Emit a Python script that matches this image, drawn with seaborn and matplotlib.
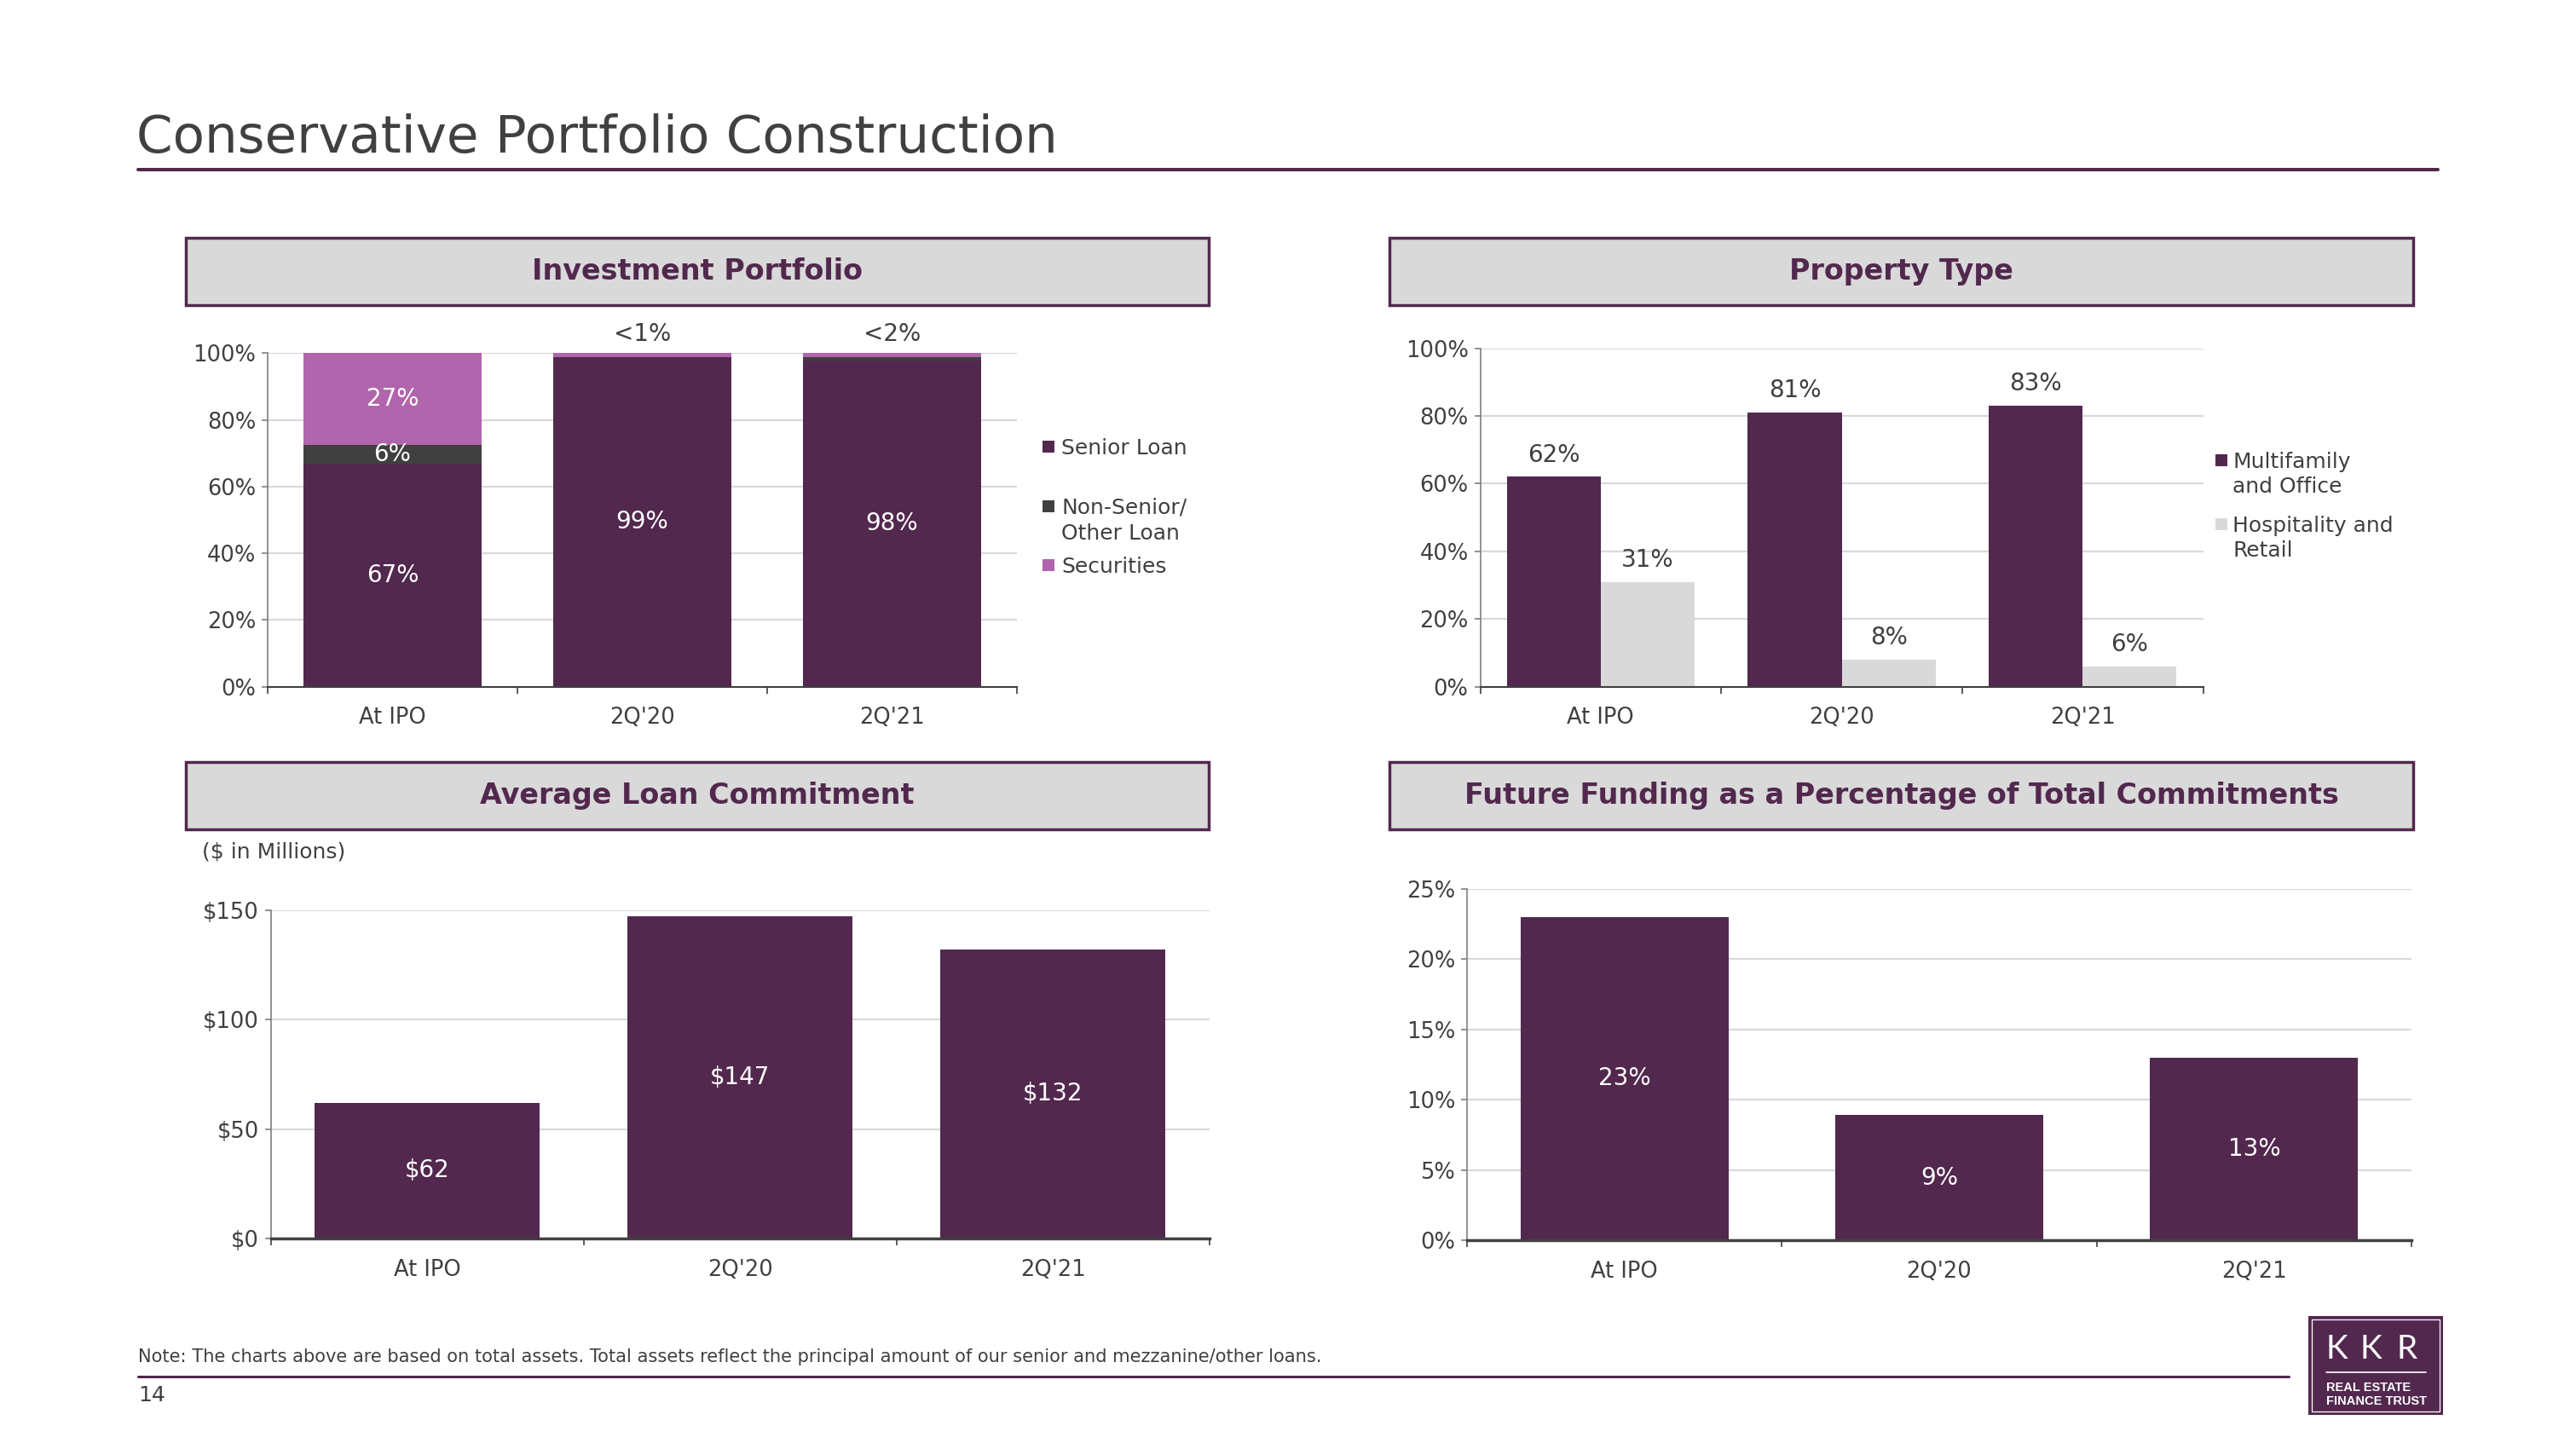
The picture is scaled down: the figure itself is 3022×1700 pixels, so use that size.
import matplotlib
matplotlib.use("Agg")
import matplotlib.pyplot as plt
import seaborn as sns
import pandas as pd
from matplotlib.patches import Rectangle
from matplotlib.lines import Line2D
from matplotlib.ticker import FuncFormatter

sns.set_style("white")
plt.rcParams['font.family'] = ['DejaVu Sans']

# ---------------- data ----------------
periods = ["At IPO", "2Q'20", "2Q'21"]

# Investment Portfolio (stacked, %)
senior_loan = [66.9, 98.8, 97.7]
non_senior_loan = [5.7, 0.0, 1.1]
securities = [27.4, 1.2, 1.2]
senior_labels = ["67%", "99%", "98%"]
non_senior_labels = ["6%", "", ""]
securities_labels = ["27%", "", ""]
portfolio_top_labels = ["", "<1%", "<2%"]

# Property Type (%)
property_types = ["Multifamily and Office", "Hospitality and Retail"]
multifamily_office = [62, 81, 83]
hospitality_retail = [31, 8, 6]
multifamily_labels = ["62%", "81%", "83%"]
hospitality_labels = ["31%", "8%", "6%"]

# Average Loan Commitment ($ millions)
avg_loan = [62, 147, 132]
avg_loan_labels = ["$62", "$147", "$132"]

# Future Funding as % of Total Commitments
future_funding = [23, 8.9, 13]
future_funding_labels = ["23%", "9%", "13%"]

pct_ticks = [0, 20, 40, 60, 80, 100]
loan_ticks = [0, 50, 100, 150]
ff_ticks = [0, 5, 10, 15, 20, 25]

# ---------------- style ----------------
PURPLE = "#52284E"
PINK = "#B165AC"
DARKGRAY = "#404040"
LIGHT = "#D9D9D9"
TXT = "#404040"

W, H = 3022, 1700
fig = plt.figure(figsize=(W / 100, H / 100), dpi=100)
fig.patch.set_facecolor("white")


def px_axes(x0, y0, x1, y1):
    return fig.add_axes([x0 / W, 1 - y1 / H, (x1 - x0) / W, (y1 - y0) / H])


def fx(x):
    return x / W


def fy(y):
    return 1 - y / H


def header(x0, y0, x1, y1, text):
    fig.patches.append(Rectangle((fx(x0), fy(y1)), (x1 - x0) / W, (y1 - y0) / H,
                                 transform=fig.transFigure, facecolor=LIGHT,
                                 edgecolor=PURPLE, linewidth=2.5))
    fig.text(fx((x0 + x1) / 2), fy((y0 + y1) / 2), text, ha="center", va="center",
             fontsize=24, fontweight="bold", color=PURPLE)


def style(ax, yticks, fmt, bottom_lw):
    ax.set_xlim(-0.5, 2.5)
    ax.set_ylim(yticks[0], yticks[-1])
    ax.set_yticks(yticks)
    ax.yaxis.set_major_formatter(FuncFormatter(fmt))
    ax.grid(False)
    ax.yaxis.grid(True, color=LIGHT, linewidth=1.6)
    ax.set_axisbelow(True)
    for s in ["top", "right"]:
        ax.spines[s].set_visible(False)
    ax.spines["left"].set_color("#7F7F7F")
    ax.spines["left"].set_linewidth(1.2)
    ax.spines["bottom"].set_color(DARKGRAY)
    ax.spines["bottom"].set_linewidth(bottom_lw)
    ax.set_xticks([-0.5, 0.5, 1.5, 2.5])
    ax.set_xticklabels([])
    ax.set_xticks([0, 1, 2], minor=True)
    ax.set_xticklabels(periods, minor=True)
    ax.tick_params(axis="x", which="major", bottom=True, length=6, width=1.2,
                   color=DARKGRAY, direction="out")
    ax.tick_params(axis="x", which="minor", bottom=True, length=0, pad=17,
                   labelsize=18.5, labelcolor=TXT)
    ax.tick_params(axis="y", which="major", left=True, length=5, width=1.2,
                   color="#7F7F7F", pad=5, labelsize=18.5, labelcolor=TXT)
    ax.set_xlabel("")
    ax.set_ylabel("")


pct_fmt = lambda v, p: f"{v:.0f}%"
usd_fmt = lambda v, p: f"${v:.0f}"

# ---------------- page frame ----------------
fig.text(fx(160), fy(179), "Conservative Portfolio Construction", fontsize=44,
         color=TXT, ha="left", va="baseline")
fig.add_artist(Line2D([fx(162), fx(2860)], [fy(198.5), fy(198.5)],
                      transform=fig.transFigure, color=PURPLE, linewidth=2.9))

header(218, 279, 1418, 358, "Investment Portfolio")
header(1630, 279, 2831, 358, "Property Type")
header(218, 894, 1418, 973, "Average Loan Commitment")
header(1630, 894, 2831, 973, "Future Funding as a Percentage of Total Commitments")

# ---------------- chart 1: Investment Portfolio ----------------
ax1 = px_axes(314, 414.4, 1193, 805.6)
df1 = pd.DataFrame({"period": periods, "senior": senior_loan,
                    "non": non_senior_loan, "sec": securities})
bottom_non = [a for a in senior_loan]
bottom_sec = [a + b for a, b in zip(senior_loan, non_senior_loan)]
sns.barplot(data=df1, x="period", y="senior", order=periods, color=PURPLE,
            saturation=1, width=0.71, errorbar=None, linewidth=0, ax=ax1)
sns.barplot(data=df1, x="period", y="non", order=periods, color=DARKGRAY,
            saturation=1, width=0.71, errorbar=None, linewidth=0,
            bottom=bottom_non, ax=ax1)
sns.barplot(data=df1, x="period", y="sec", order=periods, color=PINK,
            saturation=1, width=0.71, errorbar=None, linewidth=0,
            bottom=bottom_sec, ax=ax1)
style(ax1, pct_ticks, pct_fmt, 1.5)
ax1.bar_label(ax1.containers[0], labels=senior_labels, label_type="center",
              color="white", fontsize=20)
ax1.bar_label(ax1.containers[1], labels=non_senior_labels, label_type="center",
              color="white", fontsize=20)
ax1.bar_label(ax1.containers[2], labels=securities_labels, label_type="center",
              color="white", fontsize=20)
ax1.bar_label(ax1.containers[2], labels=portfolio_top_labels, padding=6,
              color=TXT, fontsize=20, clip_on=False)


# legend helper
def legend_entry(xsq, xtxt, y_lines, lines, color):
    s = 14
    fig.patches.append(Rectangle((fx(xsq - s / 2), fy(y_lines[0] + s / 2)), s / W, s / H,
                                 transform=fig.transFigure, facecolor=color,
                                 edgecolor="none"))
    for yl, t in zip(y_lines, lines):
        fig.text(fx(xtxt), fy(yl + 9), t, fontsize=18, color=TXT, ha="left",
                 va="baseline")


legend_entry(1229.6, 1245, [524], ["Senior Loan"], PURPLE)
legend_entry(1229.6, 1245, [593.6, 624.4], ["Non-Senior/", "Other Loan"], DARKGRAY)
legend_entry(1229.6, 1245, [663], ["Securities"], PINK)

# ---------------- chart 2: Property Type ----------------
ax2 = px_axes(1736.5, 408.6, 2584.5, 805.6)
df2 = pd.DataFrame({
    "period": periods * 2,
    "type": [property_types[0]] * 3 + [property_types[1]] * 3,
    "value": multifamily_office + hospitality_retail,
})
sns.barplot(data=df2, x="period", y="value", hue="type", order=periods,
            hue_order=property_types,
            palette={property_types[0]: PURPLE, property_types[1]: LIGHT},
            saturation=1, width=0.78, errorbar=None, linewidth=0, gap=0,
            legend=False, ax=ax2)
style(ax2, pct_ticks, pct_fmt, 1.5)
ax2.bar_label(ax2.containers[0], labels=multifamily_labels, padding=8.5,
              color=TXT, fontsize=20)
ax2.bar_label(ax2.containers[1], labels=hospitality_labels, padding=8.5,
              color=TXT, fontsize=20)

legend_entry(2605.7, 2619, [539.6, 568.5], ["Multifamily", "and Office"], PURPLE)
legend_entry(2605.7, 2619, [614.8, 643.7], ["Hospitality and", "Retail"], LIGHT)

# ---------------- chart 3: Average Loan Commitment ----------------
fig.text(fx(237), fy(1000), "($ in Millions)", fontsize=18, color=TXT,
         ha="left", va="center")
ax3 = px_axes(318, 1067.7, 1418.5, 1453)
df3 = pd.DataFrame({"period": periods, "value": avg_loan})
sns.barplot(data=df3, x="period", y="value", order=periods, color=PURPLE,
            saturation=1, width=0.72, errorbar=None, linewidth=0, ax=ax3)
style(ax3, loan_ticks, usd_fmt, 2.5)
ax3.bar_label(ax3.containers[0], labels=avg_loan_labels, label_type="center",
              color="white", fontsize=20)

# ---------------- chart 4: Future Funding ----------------
ax4 = px_axes(1721, 1042.7, 2829, 1455)
df4 = pd.DataFrame({"period": periods, "value": future_funding})
sns.barplot(data=df4, x="period", y="value", order=periods, color=PURPLE,
            saturation=1, width=0.66, errorbar=None, linewidth=0, ax=ax4)
style(ax4, ff_ticks, pct_fmt, 2.5)
ax4.bar_label(ax4.containers[0], labels=future_funding_labels, label_type="center",
              color="white", fontsize=20)

# ---------------- footer ----------------
fig.text(fx(162), fy(1598), "Note: The charts above are based on total assets. Total assets "
         "reflect the principal amount of our senior and mezzanine/other loans.",
         fontsize=15.1, color=TXT, ha="left", va="baseline")
fig.add_artist(Line2D([fx(162), fx(2685)], [fy(1615), fy(1615)],
                      transform=fig.transFigure, color=PURPLE, linewidth=2.2))
fig.text(fx(162), fy(1644), "14", fontsize=18, color=TXT, ha="left", va="baseline")

# logo
fig.patches.append(Rectangle((fx(2708), fy(1660)), 158 / W, 116 / H,
                             transform=fig.transFigure, facecolor=PURPLE,
                             edgecolor="none"))
fig.patches.append(Rectangle((fx(2712), fy(1656)), 150 / W, 108 / H,
                             transform=fig.transFigure, facecolor="none",
                             edgecolor="white", linewidth=0.9))
for xc, ch in zip([2741, 2781, 2824], ["K", "K", "R"]):
    fig.text(fx(xc), fy(1594), ch, fontsize=28, color="white", ha="center",
             va="baseline", family=["Lato", "DejaVu Sans"], fontweight="normal")
fig.add_artist(Line2D([fx(2729), fx(2846)], [fy(1610), fy(1610)],
                      transform=fig.transFigure, color="white", linewidth=1.2))
fig.text(fx(2729), fy(1632), "REAL ESTATE", fontsize=10.5, color="white",
         ha="left", va="baseline", family=["Liberation Sans", "DejaVu Sans"],
         fontweight="bold")
fig.text(fx(2729), fy(1647.5), "FINANCE TRUST", fontsize=10.5, color="white",
         ha="left", va="baseline", family=["Liberation Sans", "DejaVu Sans"],
         fontweight="bold")

fig.savefig("out.png", dpi=100, facecolor="white")
